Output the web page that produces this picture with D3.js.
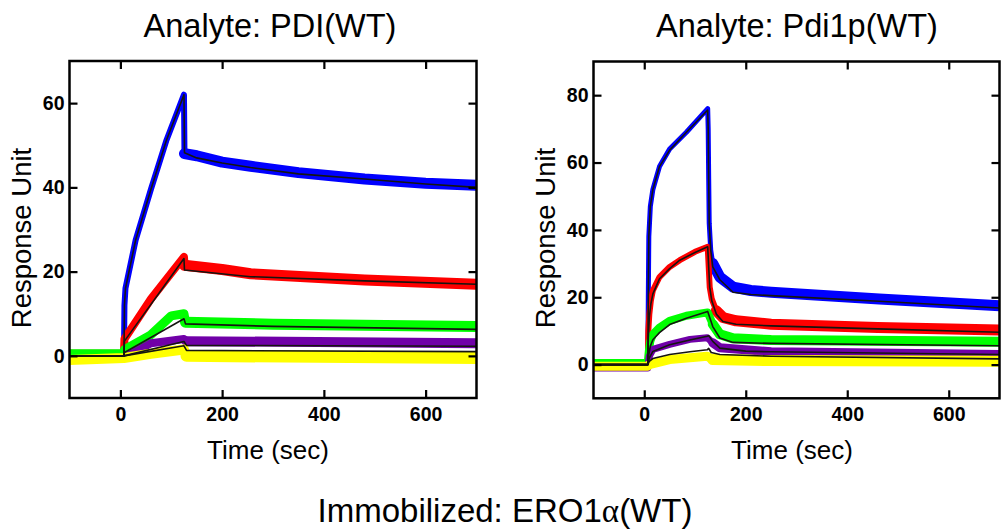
<!DOCTYPE html>
<html>
<head>
<meta charset="utf-8">
<script src="https://cdn.jsdelivr.net/npm/d3@7"></script>
<style>
  html, body { margin: 0; padding: 0; background: #ffffff; }
  svg { display: block; }
  text { font-family: "Liberation Sans", Arial, sans-serif; fill: #000; }
</style>
</head>
<body>
<svg id="chart" width="1001" height="530"></svg>
<script>
// ---------------- DATA ----------------
// time (sec), response (RU)
const xTicks = [0, 200, 400, 600];
const pdiYTicks = [0, 20, 40, 60];
const pdi1pYTicks = [0, 20, 40, 60, 80];
const panelTitles = ["Analyte: PDI(WT)", "Analyte: Pdi1p(WT)"];
const seriesColors = ["#0000ff", "#ff0000", "#00ff00", "#7000a8", "#ffff00"];

// Panel 1: PDI(WT) — observed traces (centre of the noisy band)
const pdiObsBlue   = [[-100,0],[7,0],[8,12],[10,16],[30,27.5],[60,39.5],[90,51],[125,62],[126,48],[150,47.5],[200,46],[256,45],[350,43.5],[480,42],[600,41],[700,40.5]];
const pdiObsRed    = [[-100,0.5],[7,0.5],[8,4],[60,13.5],[125,23.5],[126,21.5],[200,20.5],[256,19.5],[480,18],[700,17]];
const pdiObsGreen  = [[-100,0.5],[7,0.5],[8,1.5],[60,5],[100,9.5],[125,10],[128,8],[300,7.5],[700,7]];
const pdiObsPurple = [[-100,-1],[7,-0.5],[60,3],[125,4],[130,3.5],[700,3]];
const pdiObsYellow = [[-100,-1],[7,-0.5],[60,0.5],[125,1.5],[130,0],[700,-0.5]];
// Panel 1: fitted curves
const pdiFitBlue   = [[-100,0],[7,0],[8,12],[10,16],[30,27.5],[60,39.5],[90,51],[125,62],[126,48.2],[150,47],[200,45.8],[256,44.7],[350,43.2],[480,42],[600,40.8],[700,40]];
const pdiFitRed    = [[-100,0],[7,0],[8,3.5],[125,23.1],[126,20.4],[256,18.8],[480,17.8],[700,17]];
const pdiFitGreen  = [[-100,0],[7,0],[8,0.8],[125,8.8],[128,7.6],[300,7],[700,6.3]];
const pdiFitPurple = [[-100,0],[7,0],[125,3.4],[130,2.5],[700,2.3]];
const pdiFitYellow = [[-100,0],[7,0],[125,2.4],[130,1.3],[700,1.0]];

// Panel 2: Pdi1p(WT) — observed traces
const pdi1pObsBlue   = [[-100,0.5],[7,0.5],[8,20],[9,38],[12,47],[17,52],[30,58.8],[50,64],[83,69],[125,76],[126,70],[127,55],[128,42],[131,34],[135,30],[149,26],[175,23],[210,22],[250,21.5],[463,19.5],[700,17.5]];
const pdi1pObsRed    = [[-100,0.5],[7,0.5],[8,10],[10,15],[13,19],[17,22],[30,26],[50,29],[70,31],[100,33.5],[125,35],[127,29],[129,23],[133,19.5],[142,16],[155,14],[181,13],[250,12],[460,11],[700,10.3]];
const pdi1pObsGreen  = [[-100,0.5],[7,0.5],[9,4],[12,7],[17,9],[30,11],[50,13],[83,14.5],[125,15.5],[135,12],[149,9],[175,7.8],[250,7.3],[700,6.8]];
const pdi1pObsPurple = [[-100,-1],[7,-1],[10,2.5],[17,4.5],[50,6],[90,7.5],[124,8],[135,6.5],[149,5],[250,3.8],[700,3]];
const pdi1pObsYellow = [[-100,-0.5],[7,-0.5],[10,0],[50,1.5],[124,2.5],[135,1.5],[250,1.2],[700,1.0]];
// Panel 2: fitted curves
const pdi1pFitBlue   = [[-100,0],[7,0],[8,20],[9,38],[12,47],[17,52],[30,58.8],[50,63.7],[83,69],[125,75.6],[126,70],[127,55],[128,42],[131,34],[135,29],[149,25.2],[175,21.5],[210,20.8],[250,20.5],[463,18.8],[700,16.8]];
const pdi1pFitRed    = [[-100,0],[7,0],[8,8],[10,14],[13,18],[17,21],[30,25.5],[50,28.5],[70,31],[100,33.3],[125,35],[127,29],[129,23],[133,19],[142,15],[155,12.8],[181,12],[250,11.5],[460,10.6],[700,9.6]];
const pdi1pFitGreen  = [[-100,0],[7,0],[9,3],[12,5.5],[17,7.4],[30,9.5],[50,11.9],[83,13.8],[125,15.8],[135,11.3],[149,7.9],[175,6.6],[250,6.3],[700,5.6]];
const pdi1pFitPurple = [[-100,0],[7,0],[10,2],[17,3.9],[50,5.9],[90,7.3],[124,8.4],[127,8.6],[135,6.9],[149,4.9],[200,4.0],[250,3.8],[700,3.0]];
const pdi1pFitYellow = [[-100,0],[7,0],[10,1],[17,1.8],[50,3.0],[90,3.8],[124,4.4],[127,4.8],[132,3.6],[149,3.0],[250,2.5],[700,1.7]];

// ---------------- LAYOUT ----------------
const svg = d3.select("#chart");
const panels = [
  { left: 69.5, right: 476.5, top: 61, bottom: 398, yDomain: [-10, 70], yTicks: pdiYTicks,
    title: panelTitles[0], titleX: 270, timeX: 268, split: 126,
    obs: [pdiObsBlue, pdiObsRed, pdiObsGreen, pdiObsPurple, pdiObsYellow],
    fit: [pdiFitBlue, pdiFitRed, pdiFitGreen, pdiFitPurple, pdiFitYellow],
    bandAssoc: [6, 8, 9, 8, 10], bandDiss: [11, 11, 11, 10, 12] },
  { left: 593.5, right: 999.5, top: 61.5, bottom: 398.3, yDomain: [-10, 90], yTicks: pdi1pYTicks,
    title: panelTitles[1], titleX: 797, timeX: 792, split: 135,
    obs: [pdi1pObsBlue, pdi1pObsRed, pdi1pObsGreen, pdi1pObsPurple, pdi1pObsYellow],
    fit: [pdi1pFitBlue, pdi1pFitRed, pdi1pFitGreen, pdi1pFitPurple, pdi1pFitYellow],
    bandAssoc: [5, 6, 8, 7, 9], bandDiss: [11, 11, 10, 9, 11] }
];

panels.forEach((p, i) => {
  const x = d3.scaleLinear().domain([-100, 700]).range([p.left, p.right]);
  const y = d3.scaleLinear().domain(p.yDomain).range([p.bottom, p.top]);
  const g = svg.append("g");

  const clipId = "clip" + i;
  svg.append("clipPath").attr("id", clipId).append("rect")
    .attr("x", p.left).attr("y", p.top)
    .attr("width", p.right - p.left).attr("height", p.bottom - p.top);

  const line = d3.line().x(d => x(d[0])).y(d => y(d[1]));
  const dataG = g.append("g").attr("clip-path", `url(#${clipId})`);

  p.obs.forEach((s, k) => {
    const idx = s.findIndex(d => d[0] >= p.split);
    const assoc = s.slice(0, idx + 1);
    const diss = s.slice(idx);
    dataG.append("path").datum(diss).attr("d", line)
      .attr("fill", "none").attr("stroke", seriesColors[k])
      .attr("stroke-width", p.bandDiss[k]).attr("stroke-linejoin", "round")
      .attr("stroke-linecap", "round");
    dataG.append("path").datum(assoc).attr("d", line)
      .attr("fill", "none").attr("stroke", seriesColors[k])
      .attr("stroke-width", p.bandAssoc[k]).attr("stroke-linejoin", "round")
      .attr("stroke-linecap", "round");
  });
  p.fit.forEach(s => {
    dataG.append("path").datum(s).attr("d", line)
      .attr("fill", "none").attr("stroke", "#151510")
      .attr("stroke-width", 1.6).attr("stroke-linejoin", "round");
  });

  // axes (inward ticks, mirrored)
  const tickStyle = sel => {
    sel.select(".domain").remove();
    sel.selectAll(".tick line").attr("stroke", "#000").attr("stroke-width", 2.2);
    sel.selectAll(".tick text").attr("font-family", "'Liberation Sans', Arial, sans-serif")
      .attr("font-weight", "bold").attr("font-size", 19.5).attr("fill", "#000");
  };
  g.append("g").attr("transform", `translate(0,${p.bottom})`)
    .call(d3.axisBottom(x).tickValues(xTicks).tickSizeInner(-8).tickSizeOuter(0).tickPadding(9))
    .call(tickStyle);
  g.append("g").attr("transform", `translate(0,${p.top})`)
    .call(d3.axisTop(x).tickValues(xTicks).tickSizeInner(-8).tickSizeOuter(0).tickFormat(""))
    .call(tickStyle);
  g.append("g").attr("transform", `translate(${p.left},0)`)
    .call(d3.axisLeft(y).tickValues(p.yTicks).tickSizeInner(-8).tickSizeOuter(0).tickPadding(5))
    .call(tickStyle);
  g.append("g").attr("transform", `translate(${p.right},0)`)
    .call(d3.axisRight(y).tickValues(p.yTicks).tickSizeInner(-8).tickSizeOuter(0).tickFormat(""))
    .call(tickStyle);

  g.append("rect").attr("x", p.left).attr("y", p.top)
    .attr("width", p.right - p.left).attr("height", p.bottom - p.top)
    .attr("fill", "none").attr("stroke", "#000").attr("stroke-width", 2.5);

  // titles
  g.append("text").attr("x", p.titleX).attr("y", 37).attr("text-anchor", "middle")
    .attr("font-size", 32.5).text(p.title);
  g.append("text").attr("x", p.timeX).attr("y", 459).attr("text-anchor", "middle")
    .attr("font-size", 26).text("Time (sec)");
  g.append("text").attr("transform", `translate(${p.left - 39},${238}) rotate(-90)`)
    .attr("text-anchor", "middle").attr("font-size", 27.5).text("Response Unit");
});

const bottomTitle = svg.append("text").attr("x", 505).attr("y", 522)
  .attr("text-anchor", "middle").attr("font-size", 33);
bottomTitle.append("tspan").text("Immobilized: ERO1");
bottomTitle.append("tspan").attr("font-family", "'Liberation Serif', 'Times New Roman', serif").text("α");
bottomTitle.append("tspan").text("(WT)");
</script>
</body>
</html>
